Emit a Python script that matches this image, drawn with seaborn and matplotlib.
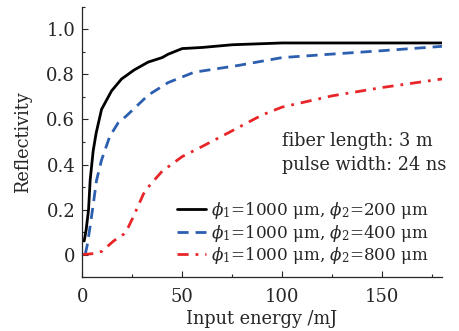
import matplotlib
matplotlib.use('Agg')
import matplotlib.pyplot as plt
import pandas as pd
import seaborn as sns
from matplotlib.ticker import MultipleLocator

# Data
energy_200 = [1, 2, 3.2, 4, 5.5, 7, 9.7, 14.7, 19.7, 26, 33, 40, 43, 50, 60, 75, 100, 140, 180]
refl_200 = [0.06, 0.11, 0.2, 0.33, 0.46, 0.54, 0.645, 0.727, 0.78, 0.82, 0.855, 0.875, 0.89, 0.915, 0.92, 0.932, 0.94, 0.94, 0.94]

energy_400 = [1.5, 2.5, 4, 5.5, 7.2, 9.7, 13.8, 18, 22, 27, 33, 43, 56, 78, 100, 124, 149, 180]
refl_400 = [0.0, 0.04, 0.126, 0.22, 0.33, 0.42, 0.525, 0.585, 0.615, 0.657, 0.708, 0.764, 0.81, 0.84, 0.875, 0.89, 0.905, 0.925]

energy_800 = [0, 7, 10, 15.7, 19, 20.7, 23, 25.7, 30.7, 34, 40, 50, 60, 74, 90, 100, 125, 150, 180]
refl_800 = [0.0, 0.005, 0.015, 0.06, 0.08, 0.09, 0.12, 0.17, 0.27, 0.31, 0.37, 0.435, 0.48, 0.545, 0.62, 0.655, 0.705, 0.742, 0.78]

labels = [r'$\phi_1$=1000 μm, $\phi_2$=200 μm',
          r'$\phi_1$=1000 μm, $\phi_2$=400 μm',
          r'$\phi_1$=1000 μm, $\phi_2$=800 μm']
colors = ['#000000', '#2d5fb0', '#e8262a']

sns.set_style('ticks')
plt.rcParams['font.family'] = ['DejaVu Serif']
plt.rcParams['mathtext.fontset'] = 'dejavuserif'
plt.rcParams['font.size'] = 12.8

fig, ax = plt.subplots(figsize=(4.59, 3.31), dpi=100)
fig.subplots_adjust(left=0.179, right=0.963, bottom=0.163, top=0.979)

sns.lineplot(x=energy_200, y=refl_200, ax=ax, color=colors[0], linewidth=2.0, label=labels[0])
sns.lineplot(x=energy_400, y=refl_400, ax=ax, color=colors[1], linewidth=2.0, label=labels[1])
sns.lineplot(x=energy_800, y=refl_800, ax=ax, color=colors[2], linewidth=2.0, label=labels[2])
ax.lines[1].set_dashes([4, 2.5])
ax.lines[2].set_dashes([4, 2.5, 1, 2.5])

ax.set_xlim(0, 180)
ax.set_ylim(-0.1, 1.1)
ax.set_xticks([0, 50, 100, 150])
ax.set_yticks([0, 0.2, 0.4, 0.6, 0.8, 1.0])
ax.set_yticklabels(['0', '0.2', '0.4', '0.6', '0.8', '1.0'])
ax.xaxis.set_minor_locator(MultipleLocator(25))
ax.yaxis.set_minor_locator(MultipleLocator(0.1))
ax.tick_params(which='major', direction='in', length=4, width=0.8, labelsize=13)
ax.tick_params(axis='x', which='major', pad=8)
ax.tick_params(axis='y', which='major', pad=5)
ax.tick_params(which='minor', direction='in', length=2.5, width=0.8)
sns.despine(ax=ax)
for s in ['left', 'bottom']:
    ax.spines[s].set_linewidth(0.9)

ax.set_xlabel('Input energy /mJ', fontsize=12.8, labelpad=3)
ax.set_ylabel('Reflectivity', fontsize=12.8, labelpad=10)

ax.text(100, 0.505, 'fiber length: 3 m', fontsize=12.8, va='center')
ax.text(100, 0.40, 'pulse width: 24 ns', fontsize=12.8, va='center')

ax.legend(loc='lower left', bbox_to_anchor=(0.245, 0.015), frameon=False,
          handlelength=1.75, handletextpad=0.3, labelspacing=0.1,
          borderaxespad=0, fontsize=12.1)

fig.savefig('out.png', dpi=100, facecolor='white')
